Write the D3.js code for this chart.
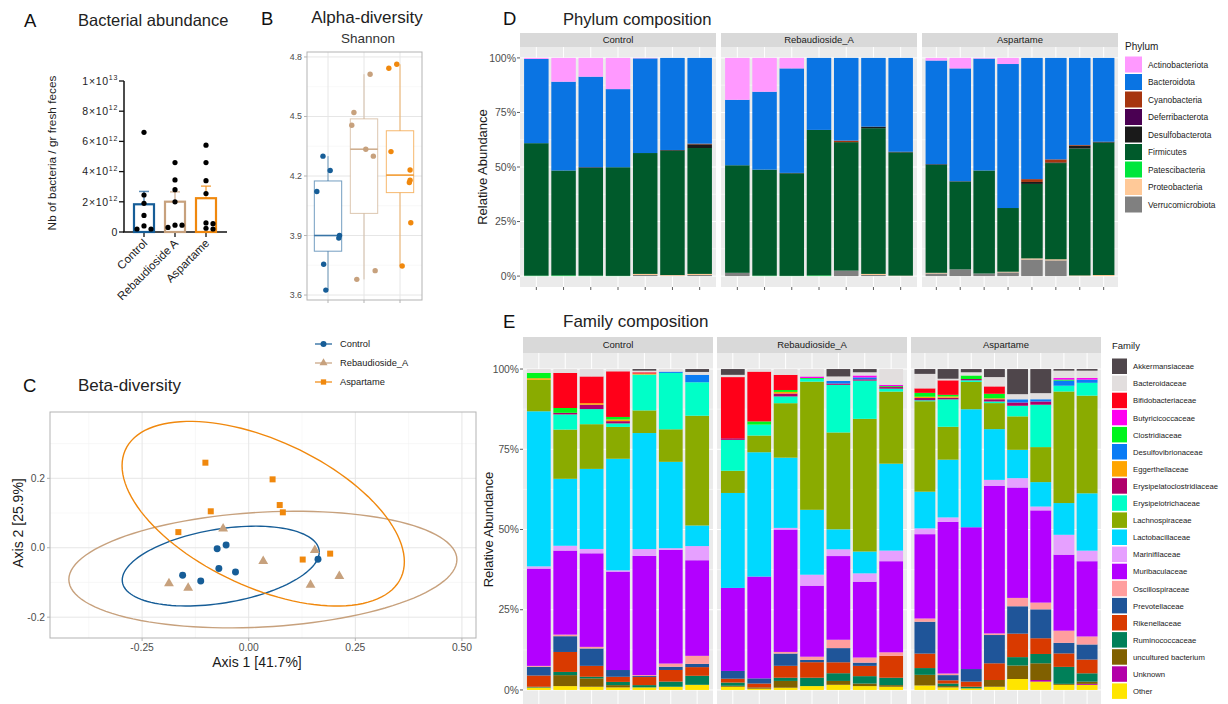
<!DOCTYPE html>
<html lang="en">
<head>
<meta charset="UTF-8">
<title>Sweeteners and gut microbiota</title>
<script src="https://d3js.org/d3.v7.min.js"></script>
<style>
  body { margin: 0; background: #fff; }
  svg { display: block; font-family: "Liberation Sans", Arial, sans-serif; }
  .letter { font-size: 18.5px; fill: #111; }
  .title { font-size: 17px; fill: #222; }
  .gg-tick { fill: #4d4d4d; }
  .gg-title { fill: #1a1a1a; }
</style>
</head>
<body>
<svg id="fig" width="1228" height="704"></svg>
<script>
// ---------- data ----------
const groups = ["Control", "Rebaudioside_A", "Aspartame"];
const groupColor = { Control: "#165d97", Rebaudioside_A: "#c7a17d", Aspartame: "#f0880d" };

// A: bacterial abundance (bacteria / g feces)
const abundanceLabels = ["Control", "Rebaudioside A", "Aspartame"];
const abundanceTicks = [0, 2e12, 4e12, 6e12, 8e12, 1e13];
const abundanceSem = [0.85e12, 0.65e12, 0.8e12];
const abundanceControl = [6.6e12, 2.45e12, 1.9e12, 1.1e12, 0.4e12, 0.2e12, 0.2e12];
const abundanceReb = [4.6e12, 3.45e12, 2.8e12, 2.0e12, 0.45e12, 0.45e12, 0.3e12];
const abundanceAsp = [5.75e12, 4.6e12, 3.4e12, 2.55e12, 0.6e12, 0.55e12, 0.25e12, 0.2e12];

// B: Shannon index (jitter = horizontal offset in category units, as plotted)
const shannonTicks = [3.6, 3.9, 4.2, 4.5, 4.8];
const shannonControl = [4.30, 4.228, 4.122, 3.90, 3.887, 3.755, 3.625];
const shannonReb = [4.52, 4.456, 4.713, 4.335, 4.30, 3.679, 3.723];
const shannonAsp = [4.743, 4.763, 4.323, 4.23, 4.179, 4.167, 3.964, 3.746];
const jitterControl = [-0.14, 0.06, -0.31, 0.32, 0.30, -0.12, -0.06];
const jitterReb = [-0.28, -0.34, 0.17, 0.05, 0.26, -0.20, 0.31];
const jitterAsp = [-0.31, -0.09, -0.25, 0.28, 0.28, 0.26, 0.30, 0.06];

// C: PCoA coordinates
const pcoaCtrlX = [-0.155, -0.1125, -0.074, -0.053, -0.070, -0.031, 0.1625];
const pcoaCtrlY = [-0.079, -0.096, -0.003, 0.008, -0.060, -0.070, -0.033];
const pcoaRebX = [-0.187, -0.142, -0.060, 0.034, 0.155, 0.145, 0.2125];
const pcoaRebY = [-0.103, -0.116, 0.055, -0.039, -0.007, -0.107, -0.082];
const pcoaAspX = [-0.165, -0.1016, -0.089, 0.056, 0.0727, 0.080, 0.1266, 0.191];
const pcoaAspY = [0.045, 0.245, 0.105, 0.197, 0.123, 0.102, -0.034, -0.017];
// 95% ellipses: centre, half width, half height, x-y coupling
const ellipseCx = [-0.0656, 0.0332, 0.034];
const ellipseCy = [-0.0528, -0.0629, 0.098];
const ellipseRx = [0.231, 0.455, 0.331];
const ellipseRy = [0.115, 0.168, 0.266];
const ellipseK = [0.35, 0.17, -0.52];
const pcoaXTicks = [-0.25, 0, 0.25, 0.5];
const pcoaYTicks = [-0.2, 0, 0.2];

// D: phylum relative abundance (%), per sample
const phyla = ["Actinobacteriota", "Bacteroidota", "Cyanobacteria", "Deferribacterota", "Desulfobacterota",
  "Firmicutes", "Patescibacteria", "Proteobacteria", "Verrucomicrobiota"];
const phylumColors = ["#ff99ff", "#0a74e3", "#a6350f", "#4a0052", "#1a1a1a", "#005a2b", "#00e63c", "#ffc998", "#808080"];
const phylumControl = [
  { Actinobacteriota: 0.5, Bacteroidota: 38.5, Firmicutes: 60.6, Patescibacteria: 0.2 },
  { Actinobacteriota: 10.9, Bacteroidota: 40.7, Firmicutes: 48.1, Patescibacteria: 0.3 },
  { Actinobacteriota: 8.6, Bacteroidota: 41.5, Desulfobacterota: 0.3, Firmicutes: 49.4, Patescibacteria: 0.2 },
  { Actinobacteriota: 14.3, Bacteroidota: 35.8, Firmicutes: 49.8, Patescibacteria: 0.1 },
  { Actinobacteriota: 0.2, Bacteroidota: 43.4, Firmicutes: 55.4, Proteobacteria: 0.5, Verrucomicrobiota: 0.5 },
  { Bacteroidota: 42.2, Desulfobacterota: 0.3, Firmicutes: 57, Proteobacteria: 0.3, Verrucomicrobiota: 0.2 },
  { Bacteroidota: 39.3, Cyanobacteria: 0.3, Desulfobacterota: 1.7, Firmicutes: 57.7, Proteobacteria: 0.5, Verrucomicrobiota: 0.5 }
];
const phylumReb = [
  { Actinobacteriota: 19.2, Bacteroidota: 30, Firmicutes: 49.3, Verrucomicrobiota: 1.5 },
  { Actinobacteriota: 15.5, Bacteroidota: 35.7, Firmicutes: 48.6, Patescibacteria: 0.2 },
  { Actinobacteriota: 4.8, Bacteroidota: 47.9, Desulfobacterota: 0.2, Firmicutes: 47, Patescibacteria: 0.1 },
  { Bacteroidota: 33, Firmicutes: 66.7, Patescibacteria: 0.3 },
  { Bacteroidota: 37.9, Cyanobacteria: 0.7, Firmicutes: 58.9, Verrucomicrobiota: 2.5 },
  { Bacteroidota: 31.5, Desulfobacterota: 0.7, Firmicutes: 66.8, Proteobacteria: 0.5, Verrucomicrobiota: 0.5 },
  { Bacteroidota: 43, Desulfobacterota: 0.3, Firmicutes: 56.5, Proteobacteria: 0.2 }
];
const phylumAsp = [
  { Actinobacteriota: 1.2, Bacteroidota: 47.5, Desulfobacterota: 0.3, Firmicutes: 49.5, Proteobacteria: 0.3, Verrucomicrobiota: 1.2 },
  { Actinobacteriota: 4.8, Bacteroidota: 51.7, Desulfobacterota: 0.2, Firmicutes: 40.2, Verrucomicrobiota: 3.1 },
  { Actinobacteriota: 0.3, Bacteroidota: 51.3, Firmicutes: 47.2, Verrucomicrobiota: 1.2 },
  { Actinobacteriota: 2.8, Bacteroidota: 66, Firmicutes: 29.2, Proteobacteria: 0.3, Verrucomicrobiota: 1.7 },
  { Bacteroidota: 55.5, Cyanobacteria: 1.3, Desulfobacterota: 0.9, Firmicutes: 34.1, Proteobacteria: 0.5, Verrucomicrobiota: 7.6 },
  { Bacteroidota: 46.5, Cyanobacteria: 1.4, Desulfobacterota: 0.3, Firmicutes: 44.1, Proteobacteria: 0.5, Verrucomicrobiota: 7.2 },
  { Bacteroidota: 39.9, Cyanobacteria: 0.3, Desulfobacterota: 1.3, Firmicutes: 58.2, Proteobacteria: 0.3 },
  { Bacteroidota: 38.4, Desulfobacterota: 0.4, Firmicutes: 60.7, Proteobacteria: 0.5 }
];

// E: family relative abundance (%), per sample
const families = ["Akkermansiaceae", "Bacteroidaceae", "Bifidobacteriaceae", "Butyricicoccaceae", "Clostridiaceae",
  "Desulfovibrionaceae", "Eggerthellaceae", "Erysipelatoclostridiaceae", "Erysipelotrichaceae", "Lachnospiraceae",
  "Lactobacillaceae", "Marinifilaceae", "Muribaculaceae", "Oscillospiraceae", "Prevotellaceae", "Rikenellaceae",
  "Ruminococcaceae", "uncultured bacterium", "Unknown", "Other"];
const familyColors = ["#4f464b", "#e2dede", "#ff0019", "#ff00f0", "#00f51c", "#0a7cf5", "#ffa500", "#b0006a",
  "#00ffc8", "#8aab00", "#00d9ff", "#e6a0ff", "#b300ff", "#ff9e9e", "#1f5599", "#d93a00",
  "#008059", "#806000", "#b300a8", "#ffe500"];
const familyControl = [
  { Bacteroidaceae: 1.2, Clostridiaceae: 1.65, Eggerthellaceae: 0.5, Lachnospiraceae: 9.8, Lactobacillaceae: 48.3, Marinifilaceae: 0.7, Muribaculaceae: 30.3, Oscillospiraceae: 0.3, Prevotellaceae: 2.7, Rikenellaceae: 3.5, Ruminococcaceae: 0.2, "uncultured bacterium": 0.1, Other: 0.7 },
  { Bacteroidaceae: 1.2, Bifidobacteriaceae: 10.9, Clostridiaceae: 1.5, Erysipelatoclostridiaceae: 0.5, Erysipelotrichaceae: 4.7, Lachnospiraceae: 15.3, Lactobacillaceae: 20.8, Marinifilaceae: 1.5, Muribaculaceae: 26.1, Oscillospiraceae: 0.5, Prevotellaceae: 4.9, Rikenellaceae: 6.2, Ruminococcaceae: 1.0, "uncultured bacterium": 3.4, Other: 1.2 },
  { Bacteroidaceae: 2.3, Bifidobacteriaceae: 8.3, Eggerthellaceae: 0.5, Erysipelatoclostridiaceae: 1.35, Erysipelotrichaceae: 4.7, Lachnospiraceae: 13.9, Lactobacillaceae: 24.9, Marinifilaceae: 1.35, Muribaculaceae: 29.1, Oscillospiraceae: 0.5, Prevotellaceae: 5.4, Rikenellaceae: 3.4, Ruminococcaceae: 0.5, "uncultured bacterium": 2.6, Other: 1.0 },
  { Bacteroidaceae: 0.7, Bifidobacteriaceae: 14.2, Clostridiaceae: 0.8, Eggerthellaceae: 0.5, Erysipelatoclostridiaceae: 0.7, Erysipelotrichaceae: 1.1, Lachnospiraceae: 9.9, Lactobacillaceae: 34.7, Marinifilaceae: 0.4, Muribaculaceae: 30.6, Prevotellaceae: 2.1, Rikenellaceae: 1.6, Ruminococcaceae: 1.0, "uncultured bacterium": 0.7, Other: 0.8 },
  { Akkermansiaceae: 0.5, Bacteroidaceae: 0.5, Bifidobacteriaceae: 0.4, Eggerthellaceae: 0.3, Erysipelotrichaceae: 11.1, Lachnospiraceae: 7.0, Lactobacillaceae: 35.9, Marinifilaceae: 2.1, Muribaculaceae: 36.9, Oscillospiraceae: 0.3, Prevotellaceae: 0.3, Rikenellaceae: 2.5, Ruminococcaceae: 0.7, Other: 0.8 },
  { Bacteroidaceae: 0.8, Desulfovibrionaceae: 0.4, Erysipelotrichaceae: 17.5, Lachnospiraceae: 10.1, Lactobacillaceae: 26.8, Marinifilaceae: 0.5, Muribaculaceae: 35.3, Oscillospiraceae: 1.0, Prevotellaceae: 1.0, Rikenellaceae: 3.6, Ruminococcaceae: 1.6, Other: 1.0 },
  { Akkermansiaceae: 0.9, Bacteroidaceae: 0.9, Desulfovibrionaceae: 2.3, Erysipelotrichaceae: 10.4, Lachnospiraceae: 34.1, Lactobacillaceae: 6.4, Marinifilaceae: 4.4, Muribaculaceae: 29.7, Oscillospiraceae: 2.5, Prevotellaceae: 1.0, Rikenellaceae: 2.7, Ruminococcaceae: 2.8, Other: 1.6 }
];
const familyReb = [
  { Akkermansiaceae: 1.8, Bacteroidaceae: 0.7, Bifidobacteriaceae: 19.0, Erysipelatoclostridiaceae: 0.5, Erysipelotrichaceae: 9.6, Lachnospiraceae: 6.9, Lactobacillaceae: 29.5, Muribaculaceae: 25.8, Prevotellaceae: 2.4, Rikenellaceae: 1.2, Ruminococcaceae: 1.0, "uncultured bacterium": 0.3, Other: 1.0 },
  { Bacteroidaceae: 0.8, Bifidobacteriaceae: 15.5, Clostridiaceae: 1.0, Erysipelotrichaceae: 3.4, Lachnospiraceae: 5.2, Lactobacillaceae: 38.7, Muribaculaceae: 31.7, Prevotellaceae: 1.6, Rikenellaceae: 1.2, "uncultured bacterium": 0.4, Other: 0.4 },
  { Bacteroidaceae: 1.8, Bifidobacteriaceae: 4.7, Clostridiaceae: 0.6, Eggerthellaceae: 0.5, Erysipelatoclostridiaceae: 0.9, Erysipelotrichaceae: 2.1, Lachnospiraceae: 16.9, Lactobacillaceae: 21.8, Marinifilaceae: 0.5, Muribaculaceae: 38.0, Oscillospiraceae: 0.5, Prevotellaceae: 3.8, Rikenellaceae: 3.7, Ruminococcaceae: 1.0, "uncultured bacterium": 2.1, Other: 0.7 },
  { Bacteroidaceae: 2.3, Butyricicoccaceae: 0.5, Clostridiaceae: 0.3, Erysipelotrichaceae: 0.8, Lachnospiraceae: 39.7, Lactobacillaceae: 20.1, Marinifilaceae: 3.4, Muribaculaceae: 22.0, Oscillospiraceae: 1.0, Prevotellaceae: 0.7, Rikenellaceae: 4.8, Ruminococcaceae: 2.6, Other: 1.2 },
  { Akkermansiaceae: 2.3, Bacteroidaceae: 1.4, Desulfovibrionaceae: 0.8, Erysipelatoclostridiaceae: 0.4, Erysipelotrichaceae: 14.8, Lachnospiraceae: 30.1, Lactobacillaceae: 6.2, Marinifilaceae: 2.1, Muribaculaceae: 26.0, Oscillospiraceae: 2.6, Prevotellaceae: 4.4, Rikenellaceae: 3.4, Ruminococcaceae: 2.4, "uncultured bacterium": 1.2, Other: 1.6 },
  { Akkermansiaceae: 1.0, Bacteroidaceae: 1.0, Butyricicoccaceae: 0.6, Desulfovibrionaceae: 0.6, Erysipelatoclostridiaceae: 0.4, Erysipelotrichaceae: 11.9, Lachnospiraceae: 41.3, Lactobacillaceae: 6.8, Marinifilaceae: 2.6, Muribaculaceae: 23.6, Oscillospiraceae: 1.6, Prevotellaceae: 1.0, Rikenellaceae: 3.2, Ruminococcaceae: 2.3, "uncultured bacterium": 0.8, Other: 1.2 },
  { Bacteroidaceae: 4.9, Butyricicoccaceae: 0.4, Clostridiaceae: 0.3, Erysipelatoclostridiaceae: 0.5, Erysipelotrichaceae: 0.9, Lachnospiraceae: 22.4, Lactobacillaceae: 27.0, Marinifilaceae: 3.3, Muribaculaceae: 28.3, Oscillospiraceae: 1.1, Rikenellaceae: 6.8, Ruminococcaceae: 2.3, "uncultured bacterium": 0.5, Other: 1.0 }
];
const familyAsp = [
  { Akkermansiaceae: 1.5, Bacteroidaceae: 4.5, Bifidobacteriaceae: 1.4, Clostridiaceae: 1.2, Eggerthellaceae: 0.4, Erysipelatoclostridiaceae: 0.7, Erysipelotrichaceae: 0.3, Lachnospiraceae: 28.1, Lactobacillaceae: 11.4, Marinifilaceae: 1.8, Muribaculaceae: 26.2, Oscillospiraceae: 1.0, Prevotellaceae: 9.9, Rikenellaceae: 4.5, Ruminococcaceae: 2.1, "uncultured bacterium": 3.3, Other: 1.4 },
  { Akkermansiaceae: 3.0, Bacteroidaceae: 0.5, Bifidobacteriaceae: 4.5, Clostridiaceae: 0.5, Eggerthellaceae: 0.4, Erysipelatoclostridiaceae: 0.5, Erysipelotrichaceae: 8.5, Lachnospiraceae: 10.2, Lactobacillaceae: 17.9, Marinifilaceae: 1.4, Muribaculaceae: 47.0, Oscillospiraceae: 0.5, Prevotellaceae: 1.6, Rikenellaceae: 1.0, Ruminococcaceae: 0.8, "uncultured bacterium": 0.4, Other: 0.8 },
  { Akkermansiaceae: 1.0, Bacteroidaceae: 1.0, Clostridiaceae: 1.1, Erysipelatoclostridiaceae: 0.4, Erysipelotrichaceae: 0.5, Lachnospiraceae: 8.5, Lactobacillaceae: 36.7, Muribaculaceae: 44.1, Prevotellaceae: 3.9, Rikenellaceae: 1.6, Ruminococcaceae: 0.5, Other: 0.5 },
  { Akkermansiaceae: 2.5, Bacteroidaceae: 2.9, Bifidobacteriaceae: 2.3, Clostridiaceae: 1.4, Eggerthellaceae: 0.3, Erysipelatoclostridiaceae: 0.7, Erysipelotrichaceae: 0.5, Lachnospiraceae: 8.1, Lactobacillaceae: 15.8, Marinifilaceae: 1.9, Muribaculaceae: 45.9, Oscillospiraceae: 0.5, Prevotellaceae: 8.8, Rikenellaceae: 5.2, "uncultured bacterium": 2.1, Other: 1.0 },
  { Akkermansiaceae: 7.8, Bacteroidaceae: 1.6, Desulfovibrionaceae: 1.0, Erysipelatoclostridiaceae: 1.0, Erysipelotrichaceae: 3.3, Lachnospiraceae: 10.4, Lactobacillaceae: 8.8, Marinifilaceae: 2.9, Muribaculaceae: 34.3, Oscillospiraceae: 2.6, Prevotellaceae: 8.5, Rikenellaceae: 7.3, Ruminococcaceae: 2.6, "uncultured bacterium": 4.2, Other: 3.4 },
  { Akkermansiaceae: 7.5, Bacteroidaceae: 1.9, Desulfovibrionaceae: 0.7, Erysipelatoclostridiaceae: 1.0, Erysipelotrichaceae: 13.2, Lachnospiraceae: 10.9, Lactobacillaceae: 7.6, Marinifilaceae: 1.2, Muribaculaceae: 28.7, Oscillospiraceae: 2.1, Prevotellaceae: 9.0, Rikenellaceae: 4.9, Ruminococcaceae: 2.9, "uncultured bacterium": 5.2, Unknown: 0.5, Other: 2.6 },
  { Akkermansiaceae: 0.5, Bacteroidaceae: 2.3, Butyricicoccaceae: 0.5, Clostridiaceae: 0.3, Desulfovibrionaceae: 1.6, Erysipelotrichaceae: 1.8, Lachnospiraceae: 34.8, Lactobacillaceae: 9.9, Marinifilaceae: 6.2, Muribaculaceae: 23.7, Oscillospiraceae: 3.8, Prevotellaceae: 3.3, Rikenellaceae: 4.2, Ruminococcaceae: 5.3, "uncultured bacterium": 0.3, Other: 1.6 },
  { Akkermansiaceae: 0.5, Bacteroidaceae: 2.3, Butyricicoccaceae: 0.5, Desulfovibrionaceae: 1.0, Erysipelotrichaceae: 4.0, Lachnospiraceae: 30.5, Lactobacillaceae: 17.9, Marinifilaceae: 3.3, Muribaculaceae: 23.5, Oscillospiraceae: 2.5, Prevotellaceae: 4.7, Rikenellaceae: 4.3, Ruminococcaceae: 2.6, "uncultured bacterium": 0.7, Unknown: 0.3, Other: 1.6 }
];
const percentTicks = [0, 0.25, 0.5, 0.75, 1];

// ---------- drawing ----------
const svg = d3.select("#fig");

function label(x, y, cls, txt) {
  return svg.append("text").attr("x", x).attr("y", y).attr("class", cls).text(txt);
}

// ===== Panel A =====
label(24, 27, "letter", "A");
label(78, 26, "title", "Bacterial abundance").style("font-size", "16.5px");

const yA = d3.scaleLinear().domain([0, 1e13]).range([232, 81]);
const xA = d3.scalePoint().domain(abundanceLabels).range([144, 206]);
const gA = svg.append("g");
const aColors = [groupColor.Control, groupColor.Rebaudioside_A, groupColor.Aspartame];
const abundancePoints = [abundanceControl, abundanceReb, abundanceAsp];

gA.append("line").attr("x1", 124).attr("x2", 124).attr("y1", yA(1e13)).attr("y2", yA(0)).attr("stroke", "#111").attr("stroke-width", 1.5);
gA.append("line").attr("x1", 123).attr("x2", 227).attr("y1", yA(0)).attr("y2", yA(0)).attr("stroke", "#111").attr("stroke-width", 1.5);
abundanceTicks.forEach(v => {
  gA.append("line").attr("x1", 119).attr("x2", 124).attr("y1", yA(v)).attr("y2", yA(v)).attr("stroke", "#111").attr("stroke-width", 1.3);
  const t = gA.append("text").attr("x", 118).attr("y", yA(v) + 3.7).attr("text-anchor", "end")
    .style("font-size", "10.5px").style("letter-spacing", "0.7px").attr("fill", "#222");
  if (v === 0) t.text("0");
  else {
    const e = Math.floor(Math.log10(v) + 1e-9);
    t.append("tspan").text(Math.round(v / Math.pow(10, e)) + "×10");
    t.append("tspan").attr("dy", -4.5).style("font-size", "7px").text(e);
  }
});
abundanceLabels.forEach((c, i) => {
  const x = xA(c);
  gA.append("line").attr("x1", x).attr("x2", x).attr("y1", yA(0)).attr("y2", yA(0) + 5).attr("stroke", "#111").attr("stroke-width", 1.3);
  gA.append("text").attr("transform", `translate(${x + 4},${yA(0) + 12}) rotate(-45)`)
    .attr("text-anchor", "end").style("font-size", "11.5px").attr("fill", "#222").text(c);
  const pts = abundancePoints[i];
  const mean = d3.mean(pts);
  // error bar (upper SEM)
  gA.append("line").attr("x1", x).attr("x2", x).attr("y1", yA(mean)).attr("y2", yA(mean + abundanceSem[i]))
    .attr("stroke", aColors[i]).attr("stroke-width", 1.5).attr("stroke-opacity", 0.7);
  gA.append("line").attr("x1", x - 5).attr("x2", x + 5).attr("y1", yA(mean + abundanceSem[i])).attr("y2", yA(mean + abundanceSem[i]))
    .attr("stroke", aColors[i]).attr("stroke-width", 1.5).attr("stroke-opacity", 0.7);
  gA.append("rect").attr("x", x - 10).attr("y", yA(mean)).attr("width", 20).attr("height", yA(0) - yA(mean))
    .attr("fill", "none").attr("stroke", aColors[i]).attr("stroke-width", 2.2);
  // simple dodge so overlapping dots sit side by side
  const placed = [];
  pts.forEach(v => {
    const py = yA(v);
    let dx = 0;
    for (const off of [0, 7, -7, 14, -14]) {
      if (placed.every(p => Math.abs(p.y - py) > 5 || Math.abs(p.dx - off) > 5.5)) { dx = off; break; }
    }
    placed.push({ y: py, dx });
    gA.append("circle").attr("cx", x + dx).attr("cy", py).attr("r", 2.6).attr("fill", "#000");
  });
});
svg.append("text").attr("transform", "translate(56,153) rotate(-90)").attr("text-anchor", "middle")
  .style("font-size", "11.8px").attr("fill", "#222").text("Nb of bacteria / gr fresh feces");

// ===== Panel B =====
label(261, 25, "letter", "B");
svg.append("text").attr("x", 367).attr("y", 23).attr("text-anchor", "middle").attr("class", "title").text("Alpha-diversity");
svg.append("text").attr("x", 368).attr("y", 43).attr("text-anchor", "middle").style("font-size", "13.5px").attr("fill", "#333").text("Shannon");

const pB = { l: 307, r: 422, t: 52, b: 300 };
const yB = d3.scaleLinear().domain([3.575, 4.825]).range([pB.b, pB.t]);
const xB = d3.scalePoint().domain(groups).range([328, 400]);
const stepB = xB.step();
const gB = svg.append("g");
gB.append("rect").attr("x", pB.l).attr("y", pB.t).attr("width", pB.r - pB.l).attr("height", pB.b - pB.t).attr("fill", "#fff");
d3.pairs(shannonTicks).forEach(([a, b]) => {
  gB.append("line").attr("x1", pB.l).attr("x2", pB.r).attr("y1", yB((a + b) / 2)).attr("y2", yB((a + b) / 2)).attr("stroke", "#f3f3f3").attr("stroke-width", 0.6);
});
shannonTicks.forEach(v => {
  gB.append("line").attr("x1", pB.l).attr("x2", pB.r).attr("y1", yB(v)).attr("y2", yB(v)).attr("stroke", "#e6e6e6").attr("stroke-width", 1);
  gB.append("line").attr("x1", pB.l - 3).attr("x2", pB.l).attr("y1", yB(v)).attr("y2", yB(v)).attr("stroke", "#b3b3b3");
  gB.append("text").attr("x", pB.l - 5).attr("y", yB(v) + 3).attr("text-anchor", "end").attr("class", "gg-tick").style("font-size", "8.8px").text(v.toFixed(1));
});
groups.forEach(g => {
  gB.append("line").attr("x1", xB(g)).attr("x2", xB(g)).attr("y1", pB.t).attr("y2", pB.b).attr("stroke", "#e6e6e6");
  gB.append("line").attr("x1", xB(g)).attr("x2", xB(g)).attr("y1", pB.b).attr("y2", pB.b + 3).attr("stroke", "#b3b3b3");
});
const shannonPoints = [shannonControl, shannonReb, shannonAsp];
const shannonJitter = [jitterControl, jitterReb, jitterAsp];
groups.forEach((g, i) => {
  const vals = shannonPoints[i].slice().sort(d3.ascending);
  const q1 = d3.quantile(vals, 0.25), med = d3.quantile(vals, 0.5), q3 = d3.quantile(vals, 0.75);
  const iqr = q3 - q1;
  const lo = d3.min(vals.filter(v => v >= q1 - 1.5 * iqr)), hi = d3.max(vals.filter(v => v <= q3 + 1.5 * iqr));
  const x = xB(g), hw = stepB * 0.38, c = groupColor[g];
  gB.append("line").attr("x1", x).attr("x2", x).attr("y1", yB(q3)).attr("y2", yB(hi)).attr("stroke", c).attr("stroke-opacity", 0.6);
  gB.append("line").attr("x1", x).attr("x2", x).attr("y1", yB(q1)).attr("y2", yB(lo)).attr("stroke", c).attr("stroke-opacity", 0.6);
  gB.append("rect").attr("x", x - hw).attr("y", yB(q3)).attr("width", hw * 2).attr("height", yB(q1) - yB(q3))
    .attr("fill", "#fff").attr("stroke", c).attr("stroke-opacity", 0.6);
  gB.append("line").attr("x1", x - hw).attr("x2", x + hw).attr("y1", yB(med)).attr("y2", yB(med)).attr("stroke", c).attr("stroke-width", 1.6).attr("stroke-opacity", 0.85);
  shannonPoints[i].forEach((v, j) => {
    gB.append("circle").attr("cx", x + shannonJitter[i][j] * stepB).attr("cy", yB(v)).attr("r", 2.7).attr("fill", c);
  });
});
gB.append("rect").attr("x", pB.l).attr("y", pB.t).attr("width", pB.r - pB.l).attr("height", pB.b - pB.t)
  .attr("fill", "none").attr("stroke", "#b3b3b3");

// shared legend for B and C
const legendShapes = [d3.symbolCircle, d3.symbolTriangle, d3.symbolSquare];
groups.forEach((g, i) => {
  const y = 344 + i * 19;
  svg.append("line").attr("x1", 315).attr("x2", 332).attr("y1", y).attr("y2", y).attr("stroke", groupColor[g]).attr("stroke-width", 1.2);
  svg.append("path").attr("d", d3.symbol(legendShapes[i], 28)()).attr("transform", `translate(323.5,${y})`).attr("fill", groupColor[g]);
  svg.append("text").attr("x", 340).attr("y", y + 3.3).style("font-size", "9.3px").attr("class", "gg-title").text(g);
});

// ===== Panel C =====
label(23, 392, "letter", "C");
label(78, 391, "title", "Beta-diversity");
const pC = { l: 50, r: 476, t: 412, b: 638 };
const xC = d3.scaleLinear().domain([-0.466, 0.533]).range([pC.l, pC.r]);
const yC = d3.scaleLinear().domain([-0.26, 0.391]).range([pC.b, pC.t]);
const gC = svg.append("g");
gC.append("rect").attr("x", pC.l).attr("y", pC.t).attr("width", pC.r - pC.l).attr("height", pC.b - pC.t).attr("fill", "#fff");
[-0.375, -0.125, 0.125, 0.375].forEach(v => gC.append("line").attr("x1", xC(v)).attr("x2", xC(v)).attr("y1", pC.t).attr("y2", pC.b).attr("stroke", "#f3f3f3").attr("stroke-width", 0.6));
[-0.1, 0.1, 0.3].forEach(v => gC.append("line").attr("x1", pC.l).attr("x2", pC.r).attr("y1", yC(v)).attr("y2", yC(v)).attr("stroke", "#f3f3f3").attr("stroke-width", 0.6));
pcoaXTicks.forEach(v => {
  gC.append("line").attr("x1", xC(v)).attr("x2", xC(v)).attr("y1", pC.t).attr("y2", pC.b).attr("stroke", "#e6e6e6");
  gC.append("line").attr("x1", xC(v)).attr("x2", xC(v)).attr("y1", pC.b).attr("y2", pC.b + 3).attr("stroke", "#b3b3b3");
  gC.append("text").attr("x", xC(v)).attr("y", pC.b + 13).attr("text-anchor", "middle").attr("class", "gg-tick").style("font-size", "10.3px").text(v.toFixed(2));
});
pcoaYTicks.forEach(v => {
  gC.append("line").attr("x1", pC.l).attr("x2", pC.r).attr("y1", yC(v)).attr("y2", yC(v)).attr("stroke", "#e6e6e6");
  gC.append("line").attr("x1", pC.l - 3).attr("x2", pC.l).attr("y1", yC(v)).attr("y2", yC(v)).attr("stroke", "#b3b3b3");
  gC.append("text").attr("x", pC.l - 5).attr("y", yC(v) + 3.5).attr("text-anchor", "end").attr("class", "gg-tick").style("font-size", "10.3px").text(v.toFixed(1));
});
const ellLine = d3.line().curve(d3.curveLinearClosed);
groups.forEach((g, i) => {
  const k = ellipseK[i], s = Math.sqrt(1 - k * k);
  const pts = d3.range(0, 2 * Math.PI, Math.PI / 60).map(t => [
    xC(ellipseCx[i] + ellipseRx[i] * Math.cos(t)),
    yC(ellipseCy[i] + ellipseRy[i] * (k * Math.cos(t) + s * Math.sin(t)))
  ]);
  gC.append("path").attr("d", ellLine(pts)).attr("fill", "none").attr("stroke", groupColor[g]).attr("stroke-width", 1.4);
});
const pcoaX = [pcoaCtrlX, pcoaRebX, pcoaAspX], pcoaY = [pcoaCtrlY, pcoaRebY, pcoaAspY];
const pcoaSizes = [38, 42, 36];
groups.forEach((g, i) => {
  pcoaX[i].forEach((vx, j) => {
    gC.append("path").attr("d", d3.symbol(legendShapes[i], pcoaSizes[i])())
      .attr("transform", `translate(${xC(vx)},${yC(pcoaY[i][j])})`).attr("fill", groupColor[g]);
  });
});
gC.append("rect").attr("x", pC.l).attr("y", pC.t).attr("width", pC.r - pC.l).attr("height", pC.b - pC.t)
  .attr("fill", "none").attr("stroke", "#b3b3b3");
svg.append("text").attr("x", 257).attr("y", 667).attr("text-anchor", "middle").attr("class", "gg-title").style("font-size", "14px").text("Axis 1 [41.7%]");
svg.append("text").attr("transform", "translate(23,523) rotate(-90)").attr("text-anchor", "middle").attr("class", "gg-title").style("font-size", "14px").text("Axis 2 [25.9%]");

// ===== Panels D and E: faceted stacked bars =====
function composition(cfg) {
  const g = svg.append("g");
  const y = d3.scaleLinear().domain([-0.05, 1.05]).range([cfg.bottom, cfg.top]);
  const color = d3.scaleOrdinal().domain(cfg.keys).range(cfg.colors);
  cfg.samples.forEach((samples, fi) => {
    const left = cfg.left + fi * (cfg.width + cfg.gap);
    const x = d3.scaleBand().domain(d3.range(samples.length)).range([left, left + cfg.width])
      .paddingInner(0.1).paddingOuter(0.15);
    const bw = x.bandwidth();
    g.append("rect").attr("x", left).attr("y", cfg.top - cfg.stripH).attr("width", cfg.width).attr("height", cfg.stripH).attr("fill", "#d9d9d9");
    g.append("text").attr("x", left + cfg.width / 2).attr("y", cfg.top - cfg.stripH / 2 + 3.4).attr("text-anchor", "middle")
      .style("font-size", "9.5px").attr("fill", "#1a1a1a").text(groups[fi]);
    g.append("rect").attr("x", left).attr("y", cfg.top).attr("width", cfg.width).attr("height", cfg.bottom - cfg.top).attr("fill", "#ebebeb");
    d3.pairs(percentTicks).forEach(([a, b]) => g.append("line").attr("x1", left).attr("x2", left + cfg.width)
      .attr("y1", y((a + b) / 2)).attr("y2", y((a + b) / 2)).attr("stroke", "#fff").attr("stroke-width", 0.5));
    percentTicks.forEach(v => g.append("line").attr("x1", left).attr("x2", left + cfg.width)
      .attr("y1", y(v)).attr("y2", y(v)).attr("stroke", "#fff").attr("stroke-width", 1));
    samples.forEach((s, i) => {
      g.append("line").attr("x1", x(i) + bw / 2).attr("x2", x(i) + bw / 2).attr("y1", cfg.top).attr("y2", cfg.bottom).attr("stroke", "#fff");
      g.append("line").attr("x1", x(i) + bw / 2).attr("x2", x(i) + bw / 2).attr("y1", cfg.bottom).attr("y2", cfg.bottom + 3).attr("stroke", "#333").attr("stroke-width", 0.8);
    });
    // relative abundance within each sample
    const rows = samples.map(s => {
      const tot = d3.sum(cfg.keys, k => s[k] || 0);
      const r = {};
      cfg.keys.forEach(k => { r[k] = (s[k] || 0) / tot; });
      return r;
    });
    const series = d3.stack().keys(cfg.keys.slice().reverse())(rows);
    series.forEach(ser => {
      g.append("g").selectAll("rect").data(ser).join("rect")
        .attr("x", (d, i) => x(i)).attr("width", bw)
        .attr("y", d => y(d[1])).attr("height", d => Math.max(0, y(d[0]) - y(d[1])))
        .attr("fill", color(ser.key));
    });
  });
  percentTicks.forEach(v => {
    g.append("line").attr("x1", cfg.left - 3).attr("x2", cfg.left).attr("y1", y(v)).attr("y2", y(v)).attr("stroke", "#333").attr("stroke-width", 0.8);
    g.append("text").attr("x", cfg.left - 4).attr("y", y(v) + 3.6).attr("text-anchor", "end").attr("class", "gg-tick")
      .style("font-size", cfg.tickSize).text(Math.round(v * 100) + "%");
  });
  g.append("text").attr("transform", `translate(${cfg.titleX},${(y(0) + y(1)) / 2}) rotate(-90)`).attr("text-anchor", "middle")
    .attr("class", "gg-title").style("font-size", "13px").text("Relative Abundance");
  // legend
  g.append("text").attr("x", cfg.legX).attr("y", cfg.legY).style("font-size", cfg.legTitleSize).attr("fill", "#1a1a1a").text(cfg.legTitle);
  cfg.keys.forEach((k, i) => {
    const ky = cfg.legY + cfg.legOffset + i * cfg.legStep;
    g.append("rect").attr("x", cfg.legX).attr("y", ky).attr("width", cfg.keyW).attr("height", cfg.keyH).attr("fill", color(k));
    g.append("text").attr("x", cfg.legX + cfg.keyW + cfg.legGap).attr("y", ky + cfg.keyH / 2 + 3).style("font-size", cfg.legSize).attr("fill", "#1a1a1a").text(k);
  });
}

label(503, 25, "letter", "D");
label(563, 25, "title", "Phylum composition").style("font-size", "16.6px");
composition({
  samples: [phylumControl, phylumReb, phylumAsp], keys: phyla, colors: phylumColors,
  left: 520, width: 196, gap: 5, top: 47, bottom: 287, stripH: 14, tickSize: "10.5px", titleX: 487,
  legTitle: "Phylum", legX: 1125, legY: 50, legOffset: 6.5, legStep: 17.5, keyW: 17, keyH: 16, legGap: 6,
  legTitleSize: "10px", legSize: "8.4px"
});

label(503, 328, "letter", "E");
label(563, 327, "title", "Family composition");
composition({
  samples: [familyControl, familyReb, familyAsp], keys: families, colors: familyColors,
  left: 523, width: 190, gap: 4, top: 353, bottom: 706, stripH: 16, tickSize: "10.3px", titleX: 493,
  legTitle: "Family", legX: 1112, legY: 349, legOffset: 9.5, legStep: 17.1, keyW: 15, keyH: 15.5, legGap: 6,
  legTitleSize: "9.5px", legSize: "7.7px"
});
</script>
</body>
</html>
